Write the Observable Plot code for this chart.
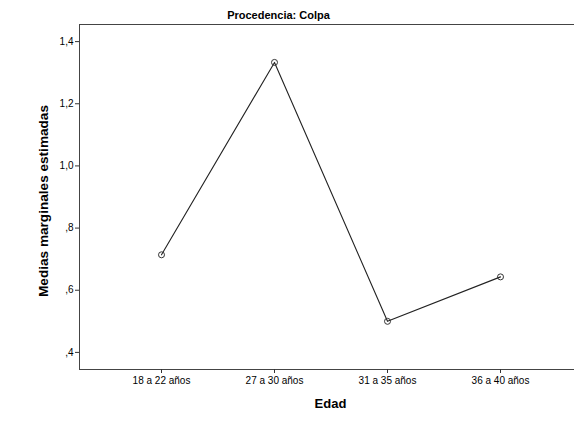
<!DOCTYPE html>
<html>
<head>
<meta charset="utf-8">
<script src="https://cdn.jsdelivr.net/npm/d3@7"></script>
<script src="https://cdn.jsdelivr.net/npm/@observablehq/plot@0.6"></script>
<style>
  html, body { margin: 0; padding: 0; background: #fff; overflow: hidden; }
  #chart { width: 574px; height: 439px; overflow: hidden; }
</style>
</head>
<body>
<div id="chart"></div>
<script>
const categories = ["18 a 22 años", "27 a 30 años", "31 a 35 años", "36 a 40 años"];
const means = [0.714, 1.333, 0.500, 0.643];
const yTicks = [0.4, 0.6, 0.8, 1.0, 1.2, 1.4];
const titleText = "Procedencia: Colpa";
const xLabel = "Edad";
const yLabel = "Medias marginales estimadas";

const data = categories.map((c, i) => ({edad: c, media: means[i]}));
const fmt = d => d3.format(".1f")(d).replace(".", ",").replace(/^0/, "");

const font = "'Liberation Sans', Arial, sans-serif";

const chart = Plot.plot({
  width: 582,
  height: 439,
  marginLeft: 79,
  marginRight: 0,
  marginTop: 24,
  marginBottom: 70,
  style: {fontFamily: font, fontSize: "10px", color: "#000", background: "#fff", maxWidth: "none"},
  x: {type: "point", domain: categories, range: [160, 500.5], padding: 0},
  y: {domain: [0.345, 1.455]},
  marks: [
    Plot.frame({stroke: "#444", strokeWidth: 1}),
    Plot.axisY({ticks: yTicks, tickFormat: fmt, tickSize: 4, tickPadding: 2, label: null, fontSize: 10, stroke: "#333", fill: "#000"}),
    Plot.axisX({tickSize: 4, tickPadding: 3, label: null, fontSize: 10, stroke: "#333", fill: "#000"}),
    Plot.line(data, {x: "edad", y: "media", stroke: "#222", strokeWidth: 1.1}),
    Plot.dot(data, {x: "edad", y: "media", r: 3, stroke: "#333", fill: "none", strokeWidth: 1}),
    Plot.text([titleText], {frameAnchor: "top-left", dx: 199, dy: -9, text: d => d, textAnchor: "middle", lineAnchor: "middle", fontSize: 11, fontWeight: "bold"}),
    Plot.text([xLabel], {frameAnchor: "bottom-left", dx: 251, dy: 34, text: d => d, textAnchor: "middle", lineAnchor: "middle", fontSize: 13, fontWeight: "bold"}),
    Plot.text([yLabel], {frameAnchor: "left", dx: -35.5, dy: 4, rotate: -90, text: d => d, textAnchor: "middle", lineAnchor: "middle", fontSize: 13.6, fontWeight: "bold"})
  ]
});
document.getElementById("chart").appendChild(chart);
</script>
</body>
</html>
